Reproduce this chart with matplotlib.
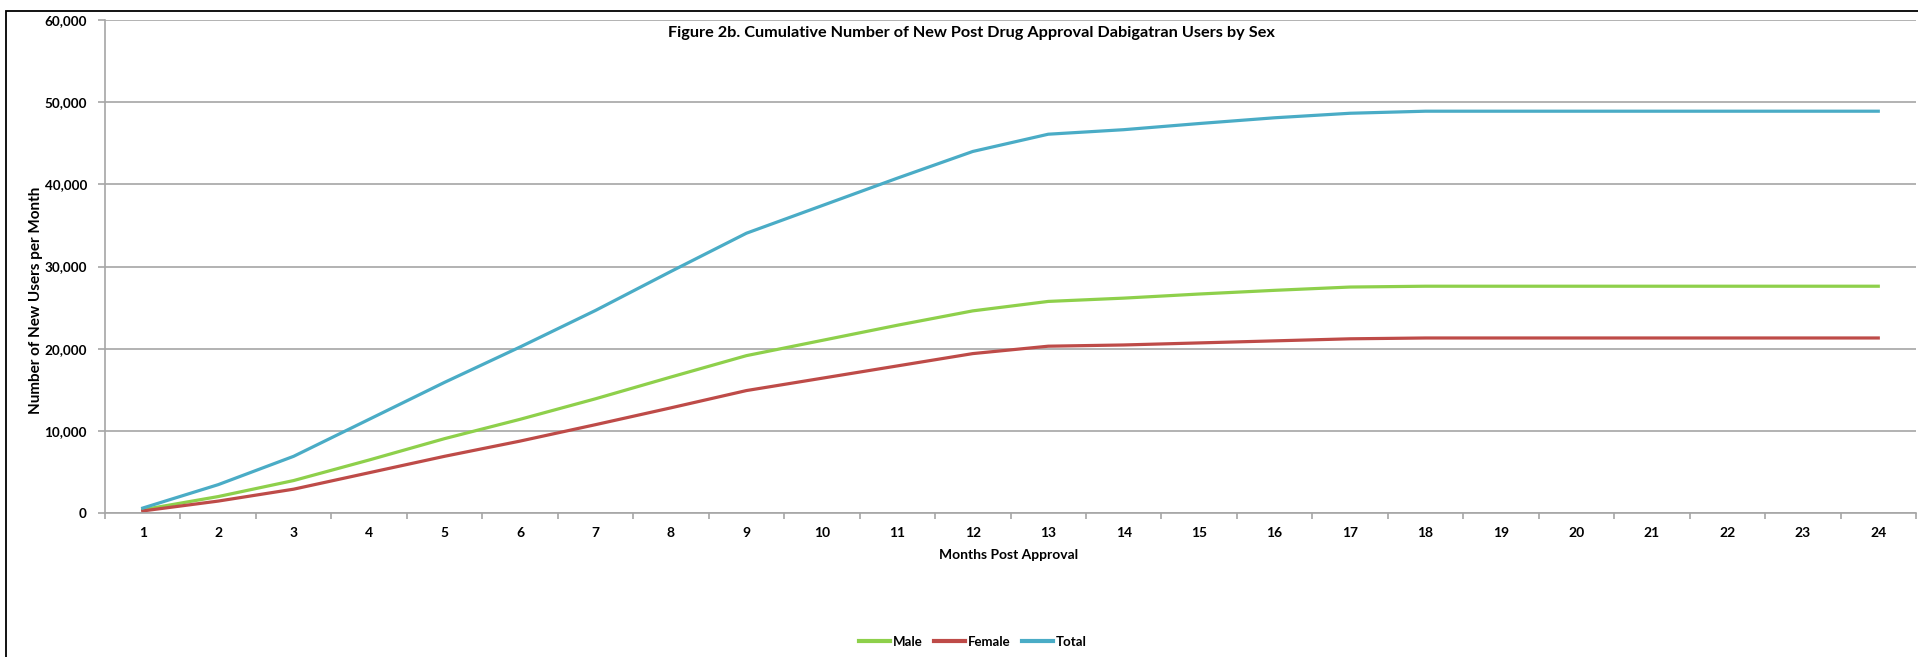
import matplotlib
matplotlib.use("Agg")
import matplotlib.pyplot as plt
from matplotlib.lines import Line2D
from matplotlib.patches import Rectangle
from matplotlib.ticker import FuncFormatter

plt.rcParams["font.family"] = ["Lato", "DejaVu Sans"]
plt.rcParams["font.weight"] = "bold"

# ---- data ----
months = list(range(1, 25))
male = [400, 2000, 3950, 6450, 9050, 11400, 13900, 16550, 19150, 21000, 22850, 24600,
        25750, 26150, 26650, 27100, 27500, 27600, 27600, 27600, 27600, 27600, 27600, 27600]
female = [250, 1450, 2900, 4900, 6900, 8750, 10750, 12800, 14900, 16400, 17900, 19400,
          20300, 20450, 20700, 20950, 21200, 21300, 21300, 21300, 21300, 21300, 21300, 21300]
total = [600, 3450, 6900, 11400, 15900, 20200, 24650, 29400, 34050, 37400, 40750, 44000,
         46100, 46650, 47400, 48100, 48650, 48900, 48900, 48900, 48900, 48900, 48900, 48900]
y_ticks = [0, 10000, 20000, 30000, 40000, 50000, 60000]

green = "#8ED04B"
red = "#BE4B48"
blue = "#4AACC6"
grid_col = "#A6A6A6"

W, H = 1918, 657
fig = plt.figure(figsize=(W / 100, H / 100), dpi=100)

# 外枠 (Excelのチャートエリア枠、右と下ははみ出している)
fig.patches.append(Rectangle((6 / W, -0.2), 1.2, 1.2 - 11 / H, transform=fig.transFigure,
                             fill=False, edgecolor="black", linewidth=1.3))

ax = fig.add_axes([105 / W, 1 - 513 / H, (1916 - 105) / W, (513 - 20) / H])

ax.plot(months, male, color=green, linewidth=2.3, label="Male")
ax.plot(months, female, color=red, linewidth=2.3, label="Female")
ax.plot(months, total, color=blue, linewidth=2.3, label="Total")

ax.set_xlim(0.5, 24.5)
ax.set_ylim(0, 60000)
ax.set_yticks(y_ticks)
ax.yaxis.set_major_formatter(FuncFormatter(lambda v, p: f"{int(v):,}"))
ax.grid(axis="y", color=grid_col, linewidth=1.2)
ax.set_axisbelow(True)

# x軸: ラベルはカテゴリ中央、目盛りは境界
ax.set_xticks(months)
ax.set_xticklabels([str(m) for m in months])
ax.set_xticks([m + 0.5 for m in range(0, 25)], minor=True)
ax.tick_params(axis="x", which="major", length=0, pad=10, labelsize=10)
ax.tick_params(axis="x", which="minor", length=4, color=grid_col, width=1.2)
ax.tick_params(axis="y", length=5, color=grid_col, width=1.2, pad=8, labelsize=9.7)

for s in ["top", "right"]:
    ax.spines[s].set_visible(False)
for s in ["left", "bottom"]:
    ax.spines[s].set_color(grid_col)
    ax.spines[s].set_linewidth(1.2)

fig.text(971 / W, 1 - 33 / H, "Figure 2b. Cumulative Number of New Post Drug Approval Dabigatran Users by Sex",
         ha="center", va="center", fontsize=11.7, fontweight="bold")
fig.text(1009 / W, 1 - 555 / H, "Months Post Approval", ha="center", va="center",
         fontsize=10, fontweight="bold")
fig.text(36 / W, 1 - 300 / H, "Number of New Users per Month", ha="center", va="center",
         rotation=90, fontsize=11, fontweight="bold")

handles = [Line2D([], [], color=green, linewidth=3),
           Line2D([], [], color=red, linewidth=3),
           Line2D([], [], color=blue, linewidth=3)]
fig.legend(handles, ["Male", "Female", "Total"], loc="center", bbox_to_anchor=(973 / W, 1 - 642 / H),
           ncol=3, frameon=False, fontsize=9.5, handlelength=2.35, handletextpad=0.2, columnspacing=0.9)

fig.savefig("out.png", dpi=100)
